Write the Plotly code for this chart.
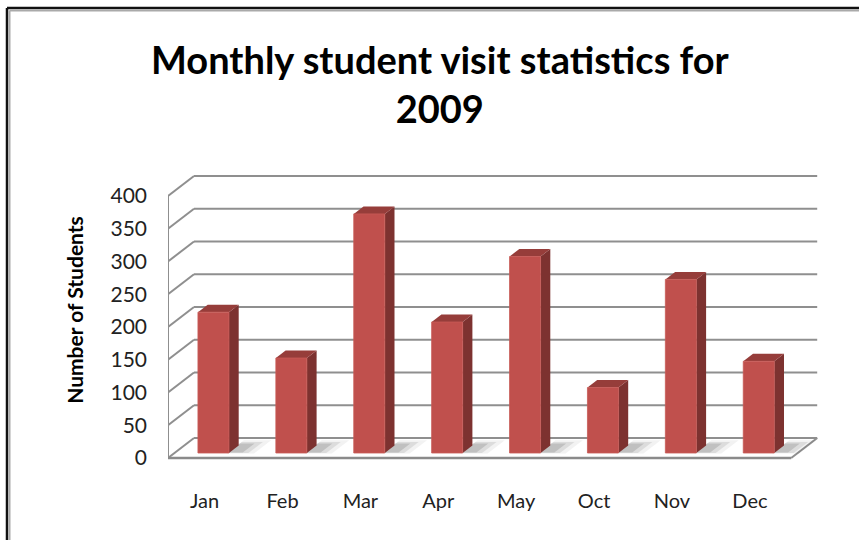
import plotly.graph_objects as go

# Monthly visits
months = ["Jan", "Feb", "Mar", "Apr", "May", "Oct", "Nov", "Dec"]
visits = [215, 145, 365, 200, 300, 100, 265, 140]
y_ticks = [0, 50, 100, 150, 200, 250, 300, 350, 400]
title_text = "<b>Monthly student visit statistics for<br>2009</b>"

# Oblique 3D projection in axis units: depth 0 = front edge, 1 = back wall
PX_PER_CAT = 77.9
PX_PER_VAL = 0.655
DEPTH_DX = 26 / PX_PER_CAT      # x shift (category units) for full depth
DEPTH_DV = 20 / PX_PER_VAL      # y shift (value units) for full depth
BAR_HALF = 15.5 / PX_PER_CAT
BAR_FRONT, BAR_BACK = 0.25, 0.625

GRID = "#8f8f8f"


def proj(x, v, d):
    return x + d * DEPTH_DX, v + d * DEPTH_DV


def poly(points, color, line_color=None, width=0):
    xs, ys = zip(*[proj(*p) for p in points])
    xs = list(xs) + [xs[0]]
    ys = list(ys) + [ys[0]]
    return go.Scatter(x=xs, y=ys, mode="lines", fill="toself", fillcolor=color,
                      line=dict(color=line_color or color, width=width),
                      hoverinfo="skip", showlegend=False)


def seg(p0, p1, color=GRID, width=2):
    x0, y0 = proj(*p0)
    x1, y1 = proj(*p1)
    return go.Scatter(x=[x0, x1], y=[y0, y1], mode="lines",
                      line=dict(color=color, width=width),
                      hoverinfo="skip", showlegend=False)


n = len(months)
traces = []

# back wall gridlines and side wall diagonals
for v in y_ticks:
    traces.append(seg((0, v, 1), (n, v, 1)))
    traces.append(seg((0, v, 0), (0, v, 1)))
# front edge of the side wall, floor edges
traces.append(seg((0, 0, 0), (0, y_ticks[-1], 0)))
traces.append(seg((0, 0, 0), (n, 0, 0), color="#8a8a8a", width=2.4))
traces.append(seg((n, 0, 0), (n, 0, 1)))

# soft floor shadows behind each bar
for i in range(n):
    xc = i + 0.5
    xl, xr = xc - BAR_HALF, xc + BAR_HALF
    for grow, alpha in [(0.0, 0.22), (0.08, 0.14), (0.16, 0.08)]:
        traces.append(poly([(xr - 0.02, 0, BAR_FRONT + 0.02 - grow * 0.3),
                            (xr + 0.17 + grow, 0, BAR_FRONT + 0.02 - grow * 0.3),
                            (xr + 0.17 + grow, 0, BAR_BACK + 0.1 + grow),
                            (xr - 0.02, 0, BAR_BACK + 0.1 + grow)],
                           f"rgba(90,90,90,{alpha})"))

# bars: front, right side and top faces
for i, val in enumerate(visits):
    xc = i + 0.5
    xl, xr = xc - BAR_HALF, xc + BAR_HALF
    f, b = BAR_FRONT, BAR_BACK
    traces.append(poly([(xr, 0, f), (xr, 0, b), (xr, val, b), (xr, val, f)], "#7d3230"))
    traces.append(poly([(xl, val, f), (xr, val, f), (xr, val, b), (xl, val, b)], "#963d3a"))
    traces.append(poly([(xl, 0, f), (xr, 0, f), (xr, val, f), (xl, val, f)], "#c0504d",
                       line_color="#c85a57", width=0.8))

fig = go.Figure(traces)

L, R, T, B = 168, 9, 150, 70
W, H = 859, 540
plot_w, plot_h = W - L - R, H - T - B
x_range = [0, plot_w / PX_PER_CAT]
y_bottom = -(H - B - 458) / PX_PER_VAL
y_range = [y_bottom, y_bottom + plot_h / PX_PER_VAL]


def px_to_paper(px, py):
    return (px - L) / plot_w, (H - B - py) / plot_h


fig.update_layout(
    width=W, height=H,
    margin=dict(l=L, r=R, t=T, b=B),
    paper_bgcolor="white", plot_bgcolor="white",
    font=dict(family="Lato", color="#1a1a1a"),
    xaxis=dict(range=x_range, showgrid=False, zeroline=False, showline=False,
               tickmode="array", tickvals=[i + 0.5 - 0.03 for i in range(n)],
               ticktext=months, ticks="", tickfont=dict(size=20, color="#222"),
               ticklabelstandoff=17, fixedrange=True),
    yaxis=dict(range=y_range, showgrid=False, zeroline=False, showline=False,
               tickmode="array", tickvals=y_ticks, ticktext=[str(t) for t in y_ticks],
               ticks="", tickfont=dict(size=21, color="#222"),
               ticklabelstandoff=20, fixedrange=True,
               title=dict(text="<b>Number of Students</b>", standoff=21,
                          font=dict(size=21, color="black"))),
)

# chart title, two centred lines
tx, ty = px_to_paper(440, 84)
fig.add_annotation(text=title_text, xref="paper", yref="paper", x=tx, y=ty,
                   xanchor="center", yanchor="middle", showarrow=False,
                   font=dict(family="Lato", size=38, color="black"))

# outer frame: dark top and left edges with a grey inner shade
x_left, y_top = px_to_paper(7, 8)
x_right, y_bot = px_to_paper(W + 5, H + 5)
x_in, y_in = px_to_paper(9.5, 10.5)
fig.add_shape(type="line", xref="paper", yref="paper", x0=x_left, x1=x_right, y0=y_top, y1=y_top,
              line=dict(color="#111", width=2.5), layer="above")
fig.add_shape(type="line", xref="paper", yref="paper", x0=x_left, x1=x_left, y0=y_top, y1=y_bot,
              line=dict(color="#111", width=2.5), layer="above")
fig.add_shape(type="line", xref="paper", yref="paper", x0=x_in, x1=x_right, y0=y_in, y1=y_in,
              line=dict(color="#aaa", width=2), layer="above")
fig.add_shape(type="line", xref="paper", yref="paper", x0=x_in, x1=x_in, y0=y_in, y1=y_bot,
              line=dict(color="#aaa", width=2), layer="above")

fig.write_html("out.html")
